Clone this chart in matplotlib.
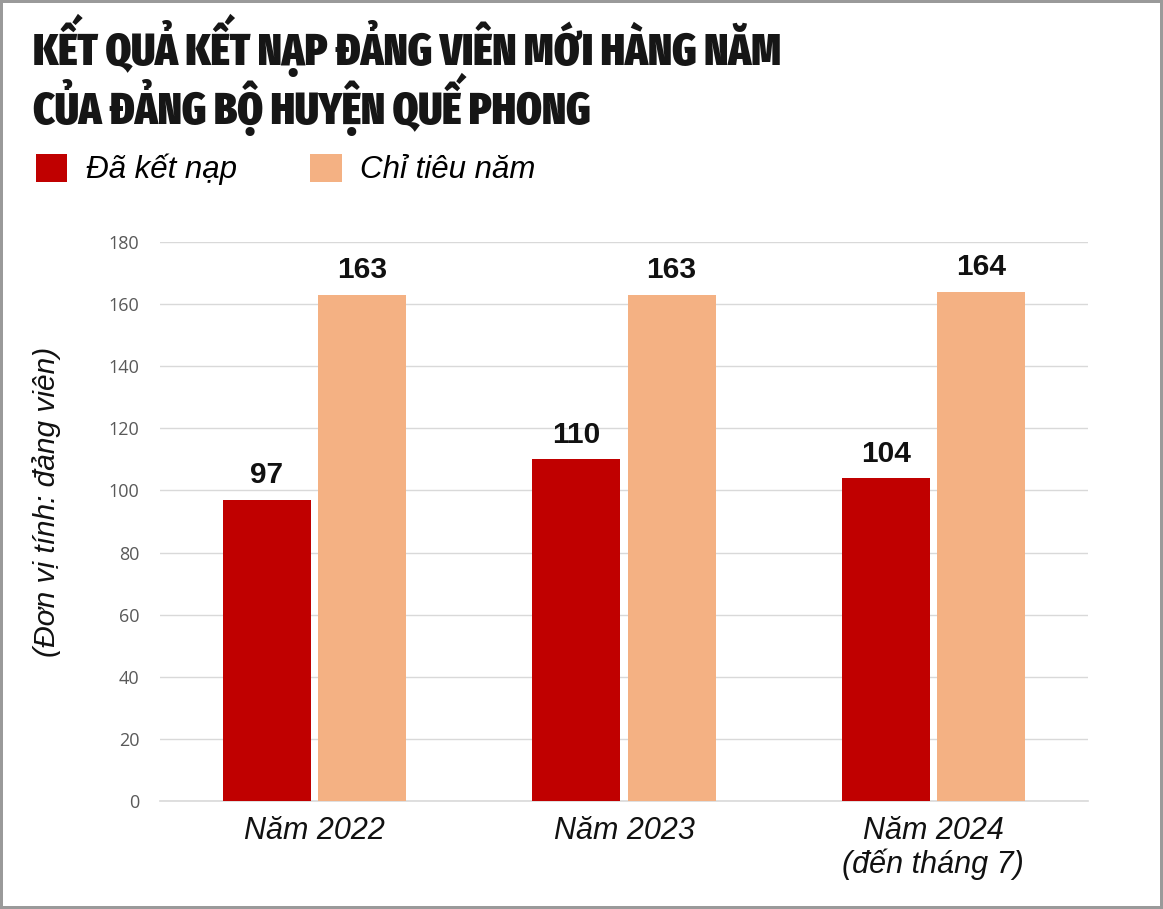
import matplotlib
matplotlib.use("Agg")
import matplotlib.pyplot as plt
import numpy as np

# data
categories = ["Năm 2022", "Năm 2023", "Năm 2024\n(đến tháng 7)"]
series_names = ["Đã kết nạp", "Chỉ tiêu năm"]
da_ket_nap = [97, 110, 104]
chi_tieu = [163, 163, 164]
y_ticks = [0, 20, 40, 60, 80, 100, 120, 140, 160, 180]

title = "KẾT QUẢ KẾT NẠP ĐẢNG VIÊN MỚI HÀNG NĂM\nCỦA ĐẢNG BỘ HUYỆN QUẾ PHONG"
ylabel = "(Đơn vị tính: đảng viên)"

red = "#C00000"
orange = "#F4B183"
body_font = ["Liberation Sans", "DejaVu Sans"]

fig = plt.figure(figsize=(11.63, 9.09), dpi=100)
fig.patch.set_edgecolor("#9a9a9a")
fig.patch.set_linewidth(4)
ax = fig.add_axes([0.1376, 0.1188, 0.7979, 0.615])

x = np.arange(len(categories))
w = 0.285
off = 0.154
b1 = ax.bar(x - off, da_ket_nap, w, color=red, label=series_names[0], zorder=3)
b2 = ax.bar(x + off, chi_tieu, w, color=orange, label=series_names[1], zorder=3)

for bars in (b1, b2):
    for rect in bars:
        h = rect.get_height()
        ax.annotate(f"{h:.0f}", (rect.get_x() + rect.get_width() / 2, h),
                    xytext=(0, 7.5), textcoords="offset points",
                    ha="center", va="bottom", fontsize=21.5, fontweight="bold",
                    family=body_font, color="#111111")

ax.set_xlim(-0.5, 2.5)
ax.set_ylim(0, 180)
ax.set_yticks(y_ticks)
ax.set_yticklabels([str(t) for t in y_ticks], fontsize=13, color="#595959",
                   family="Open Sans")
ax.set_xticks(x)
ax.set_xticklabels(categories, fontsize=22, style="italic",
                   family=body_font, color="#111111", linespacing=1.1)
ax.tick_params(axis="both", length=0)
ax.tick_params(axis="y", pad=15)
ax.tick_params(axis="x", pad=11)
ax.grid(axis="y", color="#d9d9d9", linewidth=1, zorder=0)
for s in ["top", "right", "left"]:
    ax.spines[s].set_visible(False)
ax.spines["bottom"].set_color("#d9d9d9")
ax.spines["bottom"].set_linewidth(1.2)

fig.text(0.040, 0.448, ylabel, rotation=90, ha="center", va="center",
         fontsize=21.5, style="italic", family=body_font, color="#111111")

fig.text(0.0285, 0.985, title, ha="left", va="top", fontsize=32,
         fontweight=900, family=["Fira Sans Extra Condensed", "DejaVu Sans"],
         color="#161616", linespacing=0.93)

leg = fig.legend(handles=[b1, b2], labels=series_names, loc="upper left",
                 bbox_to_anchor=(0.031, 0.831), ncol=2, frameon=False,
                 prop={"family": body_font, "style": "italic", "size": 22.5},
                 handlelength=1.0, handleheight=1.0, handletextpad=0.6,
                 columnspacing=2.35, borderaxespad=0, borderpad=0)

fig.savefig("out.png", dpi=100, edgecolor=fig.get_edgecolor())
